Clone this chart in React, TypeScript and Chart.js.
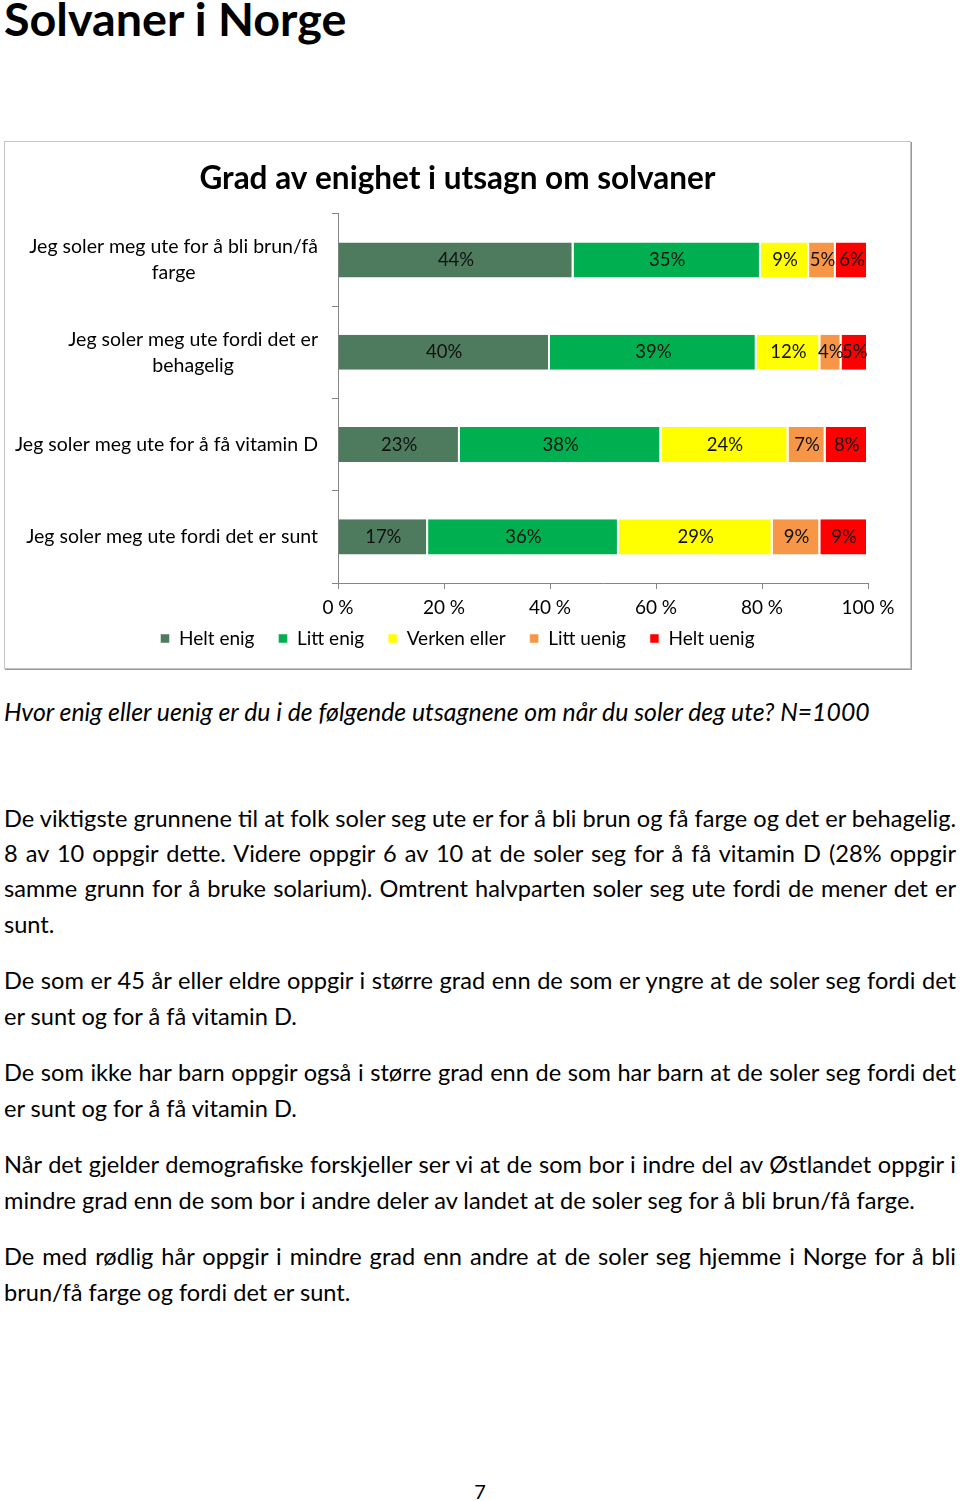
import React, { useEffect, useRef } from "react";
import { Chart, registerables } from "chart.js";

Chart.register(...registerables);

const chartTitle = "Grad av enighet i utsagn om solvaner";
const categories: string[][] = [
  ["Jeg soler meg ute for å bli brun/få", "farge"],
  ["Jeg soler meg ute fordi det er", "behagelig"],
  ["Jeg soler meg ute for å få vitamin D"],
  ["Jeg soler meg ute fordi det er sunt"],
];
const seriesNames = ["Helt enig", "Litt enig", "Verken eller", "Litt uenig", "Helt uenig"];
const seriesColors = ["#4E7B5E", "#00B050", "#FFFF00", "#F79646", "#FF0000"];
const heltEnig = [44, 40, 23, 17];
const littEnig = [35, 39, 38, 36];
const verkenEller = [9, 12, 24, 29];
const littUenig = [5, 4, 7, 9];
const heltUenig = [6, 5, 8, 9];
const xTicks = [0, 20, 40, 60, 80, 100];

const caption = "Hvor enig eller uenig er du i de følgende utsagnene om når du soler deg ute? N=1000";
const paragraphs: { lines: string[]; y: number[] }[] = [
  {
    lines: [
      "De viktigste grunnene til at folk soler seg ute er for å bli brun og få farge og det er behagelig.",
      "8 av 10 oppgir dette. Videre oppgir 6 av 10 at de soler seg for å få vitamin D (28% oppgir",
      "samme grunn for å bruke solarium). Omtrent halvparten soler seg ute fordi de mener det er",
      "sunt.",
    ],
    y: [818, 853, 888, 924],
  },
  {
    lines: [
      "De som er 45 år eller eldre oppgir i større grad enn de som er yngre at de soler seg fordi det",
      "er sunt og for å få vitamin D.",
    ],
    y: [980, 1016],
  },
  {
    lines: [
      "De som ikke har barn oppgir også i større grad enn de som har barn at de soler seg fordi det",
      "er sunt og for å få vitamin D.",
    ],
    y: [1072, 1108],
  },
  {
    lines: [
      "Når det gjelder demografiske forskjeller ser vi at de som bor i indre del av Østlandet oppgir i",
      "mindre grad enn de som bor i andre deler av landet at de soler seg for å bli brun/få farge.",
    ],
    y: [1164, 1200],
  },
  {
    lines: [
      "De med rødlig hår oppgir i mindre grad enn andre at de soler seg hjemme i Norge for å bli",
      "brun/få farge og fordi det er sunt.",
    ],
    y: [1256, 1292],
  },
];

const FONT = "Lato, 'Open Sans', sans-serif";

const catLabelPlugin = {
  id: "catLabels",
  afterDraw(chart: any) {
    const ctx = chart.ctx;
    const yScale = chart.scales.y;
    ctx.save();
    ctx.font = "19.5px " + FONT;
    ctx.fillStyle = "#000";
    ctx.textAlign = "center";
    ctx.textBaseline = "middle";
    const right = chart.chartArea.left - 20;
    categories.forEach((lines, i) => {
      const cy = yScale.getPixelForValue(i);
      const w = Math.max(...lines.map((l) => ctx.measureText(l).width));
      const cx = right - w / 2;
      const lh = 26;
      lines.forEach((l, j) => ctx.fillText(l, cx, cy + (j - (lines.length - 1) / 2) * lh));
    });
    ctx.restore();
  },
};

const dataLabelPlugin = {
  id: "dataLabels",
  afterDatasetsDraw(chart: any) {
    const ctx = chart.ctx;
    ctx.save();
    ctx.font = "18.5px " + FONT;
    ctx.fillStyle = "#111";
    ctx.textAlign = "center";
    ctx.textBaseline = "middle";
    chart.data.datasets.forEach((ds: any, di: number) => {
      const meta = chart.getDatasetMeta(di);
      meta.data.forEach((el: any, i: number) => {
        const cx = (el.x + el.base) / 2;
        ctx.fillText(ds.rawValues[i] + "%", cx, el.y);
      });
    });
    ctx.restore();
  },
};

// moves the legend row up so it sits just below the x-axis labels (as in the original)
const legendShiftPlugin = {
  id: "legendShift",
  afterLayout(chart: any) {
    const lg = chart.legend;
    if (lg) {
      lg.top -= 15;
    }
  },
};

export default function App() {
  const canvasRef = useRef<HTMLCanvasElement | null>(null);

  useEffect(() => {
    const raw = [heltEnig, littEnig, verkenEller, littUenig, heltUenig];
    const totals = categories.map((_, i) => raw.reduce((s, arr) => s + arr[i], 0));
    const chart = new Chart(canvasRef.current as HTMLCanvasElement, {
      type: "bar",
      data: {
        labels: categories.map((c) => c.join(" ")),
        datasets: raw.map((arr, k) => ({
          label: seriesNames[k],
          data: arr.map((v, i) => (v / totals[i]) * 100),
          rawValues: arr,
          backgroundColor: seriesColors[k],
          borderColor: "#ffffff",
          borderWidth: { left: 0, top: 0, bottom: 0, right: 2 },
          borderSkipped: false,
          barPercentage: 0.38,
          categoryPercentage: 1,
        })) as any,
      },
      options: {
        indexAxis: "y",
        responsive: false,
        animation: false,
        devicePixelRatio: 1,
        layout: { padding: { left: 42, right: 42, top: 0, bottom: 8 } },
        scales: {
          x: {
            stacked: true,
            min: 0,
            max: 100,
            afterBuildTicks: (scale: any) => {
              scale.ticks = xTicks.map((v) => ({ value: v }));
            },
            afterFit: (scale: any) => {
              scale.height = 37;
            },
            ticks: {
              callback: (v: any) => v + " %",
              color: "#000",
              font: { size: 19, family: FONT },
              padding: 7.5,
              maxRotation: 0,
            },
            grid: { display: true, drawOnChartArea: false, drawTicks: true, tickLength: 6, color: "#868686" },
            border: { display: true, color: "#868686" },
          },
          y: {
            stacked: true,
            ticks: { display: false },
            afterFit: (scale: any) => {
              scale.width = 291;
            },
            grid: { display: true, drawOnChartArea: false, drawTicks: true, tickLength: 6, color: "#868686", offset: true },
            border: { display: true, color: "#868686" },
          },
        },
        plugins: {
          title: {
            display: true,
            text: chartTitle,
            color: "#000",
            font: { size: 31.5, weight: "bold", family: FONT },
            padding: { top: 18, bottom: 16 },
          },
          legend: {
            display: true,
            position: "bottom",
            maxHeight: 40,
            labels: {
              color: "#000",
              font: { size: 19, family: FONT },
              boxWidth: 9,
              boxHeight: 9,
              padding: 24,
            },
          },
          tooltip: { enabled: false },
        },
      } as any,
      plugins: [catLabelPlugin, dataLabelPlugin, legendShiftPlugin],
    });
    return () => chart.destroy();
  }, []);

  const textStyle = (cy: number, justify: boolean): React.CSSProperties => ({
    position: "absolute",
    left: 4,
    width: 952,
    top: cy - 15,
    height: 30,
    lineHeight: "30px",
    fontSize: 23.6,
    whiteSpace: "nowrap",
    textAlign: justify ? "justify" : "left",
    textAlignLast: justify ? "justify" : "left",
    color: "#000",
  });

  return (
    <div
      style={{
        position: "absolute",
        left: 0,
        top: 0,
        width: 960,
        height: 1501,
        background: "#fff",
        fontFamily: FONT,
        overflow: "hidden",
      }}
    >
      <div
        style={{
          position: "absolute",
          left: 4,
          top: -8,
          fontSize: 46.7,
          fontWeight: 700,
          lineHeight: "52px",
          color: "#000",
          whiteSpace: "nowrap",
        }}
      >
        Solvaner i Norge
      </div>
      <div
        style={{
          position: "absolute",
          left: 4,
          top: 141,
          width: 905,
          height: 526,
          border: "1px solid #c4c4c4",
          boxShadow: "1px 1px 0 #9a9a9a",
          background: "#fff",
        }}
      >
        <canvas ref={canvasRef} width={905} height={526} style={{ display: "block", width: 905, height: 526 }} />
      </div>
      <div
        style={{
          position: "absolute",
          left: 4,
          top: 697,
          height: 30,
          lineHeight: "30px",
          fontSize: 24.8,
          fontStyle: "italic",
          whiteSpace: "nowrap",
          color: "#000",
        }}
      >
        {caption}
      </div>
      {paragraphs.map((p, pi) =>
        p.lines.map((line, li) => (
          <div key={pi + "-" + li} style={textStyle(p.y[li], li < p.lines.length - 1)}>
            {line}
          </div>
        ))
      )}
      <div
        style={{
          position: "absolute",
          left: 460,
          width: 40,
          top: 1476,
          height: 30,
          lineHeight: "30px",
          fontSize: 20,
          textAlign: "center",
          color: "#000",
        }}
      >
        7
      </div>
    </div>
  );
}
